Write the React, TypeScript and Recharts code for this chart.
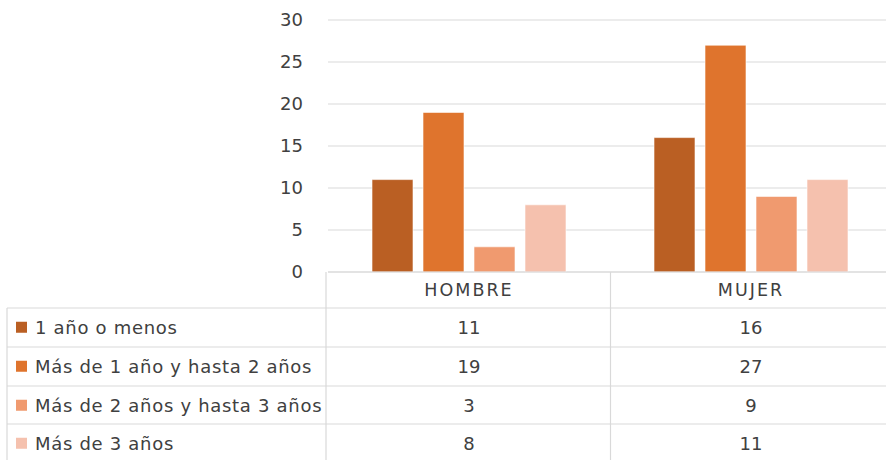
import React from "react";
import { BarChart, Bar, XAxis, YAxis, CartesianGrid } from "recharts";

const categories = ["HOMBRE", "MUJER"];
const seriesNames = [
  "1 año o menos",
  "Más de 1 año y hasta 2 años",
  "Más de 2 años y hasta 3 años",
  "Más de 3 años",
];
const unoOMenos = [11, 16];
const unoADos = [19, 27];
const dosATres = [3, 9];
const masDeTres = [8, 11];
const yTicks = [0, 5, 10, 15, 20, 25, 30];

const seriesValues = [unoOMenos, unoADos, dosATres, masDeTres];
const seriesKeys = ["s0", "s1", "s2", "s3"];
const colors = ["#BA5F23", "#DF742D", "#F09A6F", "#F5C1AE"];

const data = categories.map((c, i) => {
  const row: Record<string, string | number> = { name: c };
  seriesKeys.forEach((k, j) => {
    row[k] = seriesValues[j][i];
  });
  return row;
});

const FONT = "'DejaVu Sans', sans-serif";
const TEXT = "#404040";
const LINE = "#D9D9D9";
const AXIS_Y = 272;
const HEADER_H = 36;
const ROW_TOPS = [308, 347, 386, 424];
const ROW_H = 38.5;

const ColumnTick = (props: any) => {
  const { x, y, payload, index } = props;
  return (
    <g>
      <text
        x={x}
        y={y + HEADER_H / 2}
        textAnchor="middle"
        dominantBaseline="central"
        fontFamily={FONT}
        fontSize={17.5}
        letterSpacing={2}
        fill={TEXT}
      >
        {payload.value}
      </text>
      {seriesValues.map((vals, j) => (
        <text
          key={j}
          x={x}
          y={ROW_TOPS[j] + ROW_H / 2}
          textAnchor="middle"
          dominantBaseline="central"
          fontFamily={FONT}
          fontSize={18}
          fill={TEXT}
        >
          {vals[index]}
        </text>
      ))}
    </g>
  );
};

export default function App() {
  return (
    <div
      style={{
        position: "absolute",
        left: 0,
        top: 0,
        width: 886,
        height: 460,
        overflow: "hidden",
        background: "#fff",
      }}
    >
      <BarChart
        width={892}
        height={460}
        data={data}
        margin={{ top: 20, right: 0, bottom: 0, left: 0 }}
        barSize={41}
        barGap={10}
      >
        <CartesianGrid vertical={false} stroke={LINE} strokeWidth={1.2} />
        <YAxis
          width={328}
          domain={[0, 30]}
          ticks={yTicks}
          interval={0}
          axisLine={false}
          tickLine={false}
          tickSize={0}
          tickMargin={25}
          tick={{ fontFamily: FONT, fontSize: 18, fill: TEXT }}
        />
        <XAxis
          dataKey="name"
          height={188}
          axisLine={{ stroke: LINE, strokeWidth: 1.2 }}
          tickLine={false}
          tickSize={0}
          tickMargin={0}
          interval={0}
          tick={<ColumnTick />}
        />
        {seriesKeys.map((k, j) => (
          <Bar
            key={k}
            dataKey={k}
            name={seriesNames[j]}
            fill={colors[j]}
            stroke="#ffffff"
            strokeOpacity={0.6}
            strokeWidth={1}
            isAnimationActive={false}
          />
        ))}
      </BarChart>
      <svg
        width={886}
        height={460}
        style={{ position: "absolute", left: 0, top: 0, pointerEvents: "none" }}
      >
        {ROW_TOPS.map((t) => (
          <line key={t} x1={7} x2={886} y1={t} y2={t} stroke={LINE} strokeWidth={1.2} />
        ))}
        <line x1={7} x2={7} y1={308} y2={460} stroke={LINE} strokeWidth={1.2} />
        <line x1={326} x2={326} y1={AXIS_Y} y2={460} stroke={LINE} strokeWidth={1.2} />
        <line x1={610.5} x2={610.5} y1={AXIS_Y} y2={460} stroke={LINE} strokeWidth={1.2} />
        {seriesNames.map((n, j) => (
          <g key={n}>
            <rect x={16} y={ROW_TOPS[j] + ROW_H / 2 - 5.5} width={11} height={11} fill={colors[j]} />
            <text
              x={35}
              y={ROW_TOPS[j] + ROW_H / 2}
              dominantBaseline="central"
              fontFamily={FONT}
              fontSize={18}
              letterSpacing={0.7}
              fill={TEXT}
            >
              {n}
            </text>
          </g>
        ))}
      </svg>
    </div>
  );
}
